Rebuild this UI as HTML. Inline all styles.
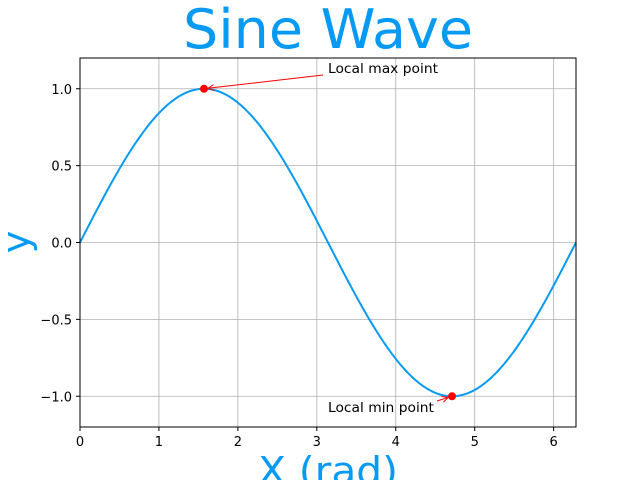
<!DOCTYPE html>
<html><head><meta charset="utf-8"><style>body{margin:0;background:#fff}svg{display:block;font-family:"DejaVu Sans","Liberation Sans",sans-serif}</style></head>
<body>
<svg id="chart" width="640" height="480">
<rect x="0" y="0" width="640" height="480" fill="#fff"/>
<g id="grid"></g>
<path id="curve" fill="none" stroke="#069AF3" stroke-width="2"/>
<g id="marks"></g>
<rect x="80" y="58" width="496" height="369" fill="none" stroke="#000" stroke-width="1"/>
<g id="ticks" font-size="13"></g>
<text x="328" y="48" text-anchor="middle" font-size="54" fill="#069AF3" textLength="290" lengthAdjust="spacingAndGlyphs">Sine Wave</text>
<text x="328" y="484" text-anchor="middle" font-size="38" fill="#069AF3" textLength="140" lengthAdjust="spacingAndGlyphs">X (rad)</text>
<text transform="translate(29,242) rotate(-90)" text-anchor="middle" font-size="38" fill="#069AF3">y</text>
<text x="328" y="73" font-size="13" fill="#000" textLength="110" lengthAdjust="spacingAndGlyphs">Local max point</text>
<text x="328" y="412" font-size="13" fill="#000" textLength="106" lengthAdjust="spacingAndGlyphs">Local min point</text>
</svg>
<script>
const xTicks=[0,1,2,3,4,5,6];
const yTicks=[-1.0,-0.5,0.0,0.5,1.0];
const yTickLabels=["\u22121.0","\u22120.5","0.0","0.5","1.0"];
const xDomain=[0,2*Math.PI];
const yDomain=[-1.2,1.2];
const extremaX=[Math.PI/2,3*Math.PI/2];
const extremaY=[1,-1];
const sampleCount=200;
const NS="http://www.w3.org/2000/svg";
const L=80,R=576,T=58,B=427;
const sx=v=>L+(v-xDomain[0])/(xDomain[1]-xDomain[0])*(R-L);
const sy=v=>B-(v-yDomain[0])/(yDomain[1]-yDomain[0])*(B-T);
function mk(tag,attrs,parent){const e=document.createElementNS(NS,tag);for(const k in attrs)e.setAttribute(k,attrs[k]);parent.appendChild(e);return e;}
const grid=document.getElementById('grid'),ticks=document.getElementById('ticks'),marks=document.getElementById('marks');
xTicks.forEach(t=>{const x=sx(t);
 const g=mk('line',{x1:x,x2:x,y1:T,y2:B,stroke:'#b0b0b0','stroke-width':0.8},grid);
 
 
 mk('line',{x1:x,x2:x,y1:B,y2:B+4,stroke:'#000'},ticks);
 const tx=mk('text',{x:x,y:B+19,'text-anchor':'middle'},ticks);tx.textContent=t;
 
 
});
yTicks.forEach((t,i)=>{const y=sy(t);
 const g=mk('line',{x1:L,x2:R,y1:y,y2:y,stroke:'#b0b0b0','stroke-width':0.8},grid);
 
 
 mk('line',{x1:L-4,x2:L,y1:y,y2:y,stroke:'#000'},ticks);
 const tx=mk('text',{x:L-8,y:y+5,'text-anchor':'end'},ticks);tx.textContent=yTickLabels[i];
 
 
});
let d='';for(let i=0;i<=sampleCount;i++){const x=xDomain[0]+(xDomain[1]-xDomain[0])*i/sampleCount;d+=(i?'L':'M')+sx(x).toFixed(2)+','+sy(Math.sin(x)).toFixed(2);}
document.getElementById('curve').setAttribute('d',d);
const starts=[[323,75],[437,401]];
extremaX.forEach((xv,i)=>{const px=sx(xv),py=sy(extremaY[i]);
 const [ax,ay]=starts[i];const ang=Math.atan2(py-ay,px-ax);
 const ex=px-4*Math.cos(ang),ey=py-4*Math.sin(ang);
 const ln=mk('line',{x1:ax,y1:ay,x2:ex,y2:ey,stroke:'red','stroke-width':1},marks);
 
 
 const h=6,w=3;const bx=ex-h*Math.cos(ang),by=ey-h*Math.sin(ang);
 mk('polyline',{points:`${bx-w*Math.sin(ang)},${by+w*Math.cos(ang)} ${ex},${ey} ${bx+w*Math.sin(ang)},${by-w*Math.cos(ang)}`,fill:'none',stroke:'red','stroke-width':1},marks);
 const c=mk('circle',{cx:px,cy:py,r:4,fill:'red'},marks);
 
 
});
</script>
</body></html>
